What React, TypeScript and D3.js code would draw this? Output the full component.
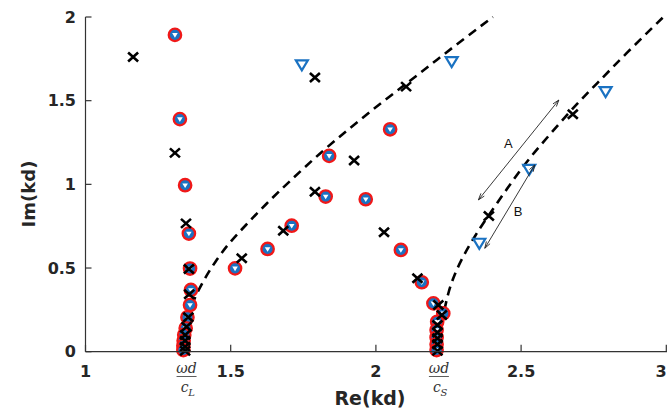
import React from "react";
import * as d3 from "d3";

// ---- Data ----
const circleRe = [1.308, 1.325, 1.343, 1.356, 1.360, 1.363, 1.360, 1.351, 1.345, 1.340, 1.338, 1.337, 1.337,
  1.515, 1.627, 1.710, 1.827, 1.839, 1.965, 2.049, 2.086, 2.158, 2.198, 2.232, 2.211, 2.209, 2.209, 2.209, 2.209];
const circleIm = [1.893, 1.390, 0.995, 0.706, 0.497, 0.369, 0.279, 0.206, 0.140, 0.100, 0.065, 0.035, 0.010,
  0.498, 0.614, 0.753, 0.927, 1.170, 0.911, 1.329, 0.608, 0.415, 0.289, 0.229, 0.179, 0.130, 0.085, 0.045, 0.010];

const crossRe = [1.164, 1.308, 1.346, 1.356, 1.357, 1.354, 1.348, 1.343, 1.343, 1.343, 1.343,
  1.538, 1.681, 1.790, 1.790, 1.925, 2.104, 2.028, 2.143, 2.215, 2.227, 2.212, 2.212, 2.212, 2.212, 2.212,
  2.389, 2.678];
const crossIm = [1.761, 1.188, 0.767, 0.494, 0.343, 0.206, 0.149, 0.100, 0.065, 0.030, 0.005,
  0.558, 0.723, 0.956, 1.638, 1.142, 1.584, 0.714, 0.439, 0.279, 0.219, 0.160, 0.115, 0.080, 0.045, 0.005,
  0.811, 1.419];

const triRe = [1.745, 2.261, 2.791, 2.528, 2.356];
const triIm = [1.714, 1.733, 1.554, 1.090, 0.648];

const curve1Re = [1.367, 1.377, 1.411, 1.446, 1.491, 1.549, 1.618, 1.704, 1.808, 1.911, 2.014, 2.117, 2.210, 2.307, 2.403];
const curve1Im = [0.279, 0.327, 0.440, 0.536, 0.644, 0.751, 0.877, 1.020, 1.188, 1.337, 1.481, 1.618, 1.744, 1.875, 2.0];

const curve2Re = [2.236, 2.25, 2.27, 2.30, 2.34, 2.39, 2.45, 2.52, 2.60, 2.68, 2.76, 2.86, 2.99];
const curve2Im = [0.25, 0.36, 0.46, 0.57, 0.69, 0.82, 0.97, 1.14, 1.30, 1.46, 1.60, 1.78, 2.0];

const xTicks = [1, 1.5, 2, 2.5, 3];
const xTickLabels = ["1", "1.5", "2", "2.5", "3"];
const yTicks = [0, 0.5, 1, 1.5, 2];
const yTickLabels = ["0", "0.5", "1", "1.5", "2"];

const specialTicks = [1.348, 2.217];
const specialSub = ["L", "S"];

const arrowLabels = ["A", "B"];
const arrowFromRe = [2.630, 2.547];
const arrowFromIm = [1.504, 1.116];
const arrowToRe = [2.353, 2.375];
const arrowToIm = [0.907, 0.618];
const labelRe = [2.456, 2.490];
const labelIm = [1.246, 0.837];

// ---- Layout ----
const W = 667;
const H = 412;
const xScale = d3.scaleLinear().domain([1, 3]).range([85.5, 666.3]);
const yScale = d3.scaleLinear().domain([0, 2]).range([351.7, 17]);

const BLUE = "#1a72c2";
const RED = "#f01818";
const AX = "#333333";
const BOLDFONT = "'DejaVu Sans', 'Liberation Sans', Arial, sans-serif";

function arrowHead(x: number, y: number, fx: number, fy: number) {
  const ang = Math.atan2(y - fy, x - fx);
  const L = 7;
  const a = (18 * Math.PI) / 180;
  const x1 = x - L * Math.cos(ang - a);
  const y1 = y - L * Math.sin(ang - a);
  const x2 = x - L * Math.cos(ang + a);
  const y2 = y - L * Math.sin(ang + a);
  return `M${x1},${y1}L${x},${y}L${x2},${y2}`;
}

export default function App() {
  const line = d3
    .line<[number, number]>()
    .x((d) => xScale(d[0]))
    .y((d) => yScale(d[1]))
    .curve(d3.curveBasis);

  const c1 = line(curve1Re.map((r, i) => [r, curve1Im[i]] as [number, number])) || "";
  const c2 = line(curve2Re.map((r, i) => [r, curve2Im[i]] as [number, number])) || "";

  const x0 = xScale(1);
  const y0 = yScale(0);

  return (
    <svg
      width={W}
      height={H}
      style={{ position: "absolute", left: 0, top: 0, background: "#fff" }}
      fontFamily="'Liberation Sans', Arial, sans-serif"
    >
      <rect width={W} height={H} fill="#fff" />
      <path d={c1} fill="none" stroke="#000" strokeWidth={2.6} strokeDasharray="9,6" />
      <path d={c2} fill="none" stroke="#000" strokeWidth={2.6} strokeDasharray="9,6" />

      {circleRe.map((r, i) => (
        <g key={"c" + i} transform={`translate(${xScale(r)},${yScale(circleIm[i])})`}>
          <circle r={6.2} fill={BLUE} stroke={RED} strokeWidth={2.3} />
          <path d="M-2.8,-1.8L2.8,-1.8L0,2.8Z" fill="#fff" />
        </g>
      ))}

      {triRe.map((r, i) => (
        <path
          key={"t" + i}
          transform={`translate(${xScale(r)},${yScale(triIm[i])})`}
          d="M-6,-4.5L6,-4.5L0,5.5Z"
          fill="#fff"
          stroke={BLUE}
          strokeWidth={2.2}
          strokeLinejoin="miter"
        />
      ))}

      {crossRe.map((r, i) => (
        <path
          key={"x" + i}
          transform={`translate(${xScale(r)},${yScale(crossIm[i])})`}
          d="M-5,-4.5L5,4.5M-5,4.5L5,-4.5"
          stroke="#000"
          strokeWidth={2.6}
        />
      ))}

      {arrowLabels.map((lab, i) => {
        const fx = xScale(arrowFromRe[i]);
        const fy = yScale(arrowFromIm[i]);
        const tx = xScale(arrowToRe[i]);
        const ty = yScale(arrowToIm[i]);
        return (
          <g key={"a" + i}>
            <line x1={fx} y1={fy} x2={tx} y2={ty} stroke="#222" strokeWidth={0.9} />
            <path d={arrowHead(fx, fy, tx, ty)} fill="none" stroke="#222" strokeWidth={0.9} />
            <path d={arrowHead(tx, ty, fx, fy)} fill="none" stroke="#222" strokeWidth={0.9} />
            <text
              x={xScale(labelRe[i])}
              y={yScale(labelIm[i])}
              fontSize={13}
              textAnchor="middle"
              dominantBaseline="central"
              fill="#111"
            >
              {lab}
            </text>
          </g>
        );
      })}

      <line x1={x0} y1={y0} x2={W} y2={y0} stroke={AX} strokeWidth={1.2} />
      <line x1={x0} y1={y0} x2={x0} y2={yScale(2)} stroke={AX} strokeWidth={1.2} />
      {yTicks.map((t, i) => (
        <g key={"yt" + i}>
          <line x1={x0} x2={x0 + 6} y1={yScale(t)} y2={yScale(t)} stroke={AX} strokeWidth={1.2} />
          <text
            x={76}
            y={yScale(t)}
            textAnchor="end"
            dominantBaseline="central"
            fontSize={16}
            fontWeight="bold"
            fontFamily={BOLDFONT}
            fill="#262626"
          >
            {yTickLabels[i]}
          </text>
        </g>
      ))}
      {xTicks.map((t, i) => (
        <g key={"xt" + i}>
          <line x1={xScale(t)} x2={xScale(t)} y1={y0} y2={y0 - 7} stroke={AX} strokeWidth={1.2} />
          <text
            x={Math.min(xScale(t), W - 6)}
            y={377}
            textAnchor="middle"
            fontSize={16}
            fontWeight="bold"
            fontFamily={BOLDFONT}
            fill="#262626"
          >
            {xTickLabels[i]}
          </text>
        </g>
      ))}
      {specialTicks.map((t, i) => {
        const cx = xScale(t);
        return (
          <g key={"st" + i} fontFamily="'DejaVu Serif', 'Liberation Serif', serif" fontStyle="italic" fill="#333">
            <text x={cx} y={373} textAnchor="middle" fontSize={14}>
              ωd
            </text>
            <line x1={cx - 10} x2={cx + 10} y1={376.5} y2={376.5} stroke="#333" strokeWidth={0.8} />
            <text x={cx - 2} y={392} textAnchor="middle" fontSize={14}>
              c
            </text>
            <text x={cx + 5} y={396} textAnchor="middle" fontSize={10}>
              {specialSub[i]}
            </text>
          </g>
        );
      })}

      <text x={370} y={405} textAnchor="middle" fontSize={19} fontWeight="bold" fontFamily={BOLDFONT} fill="#262626">
        Re(kd)
      </text>
      <text
        transform={`translate(35,194) rotate(-90)`}
        textAnchor="middle"
        fontSize={18}
        fontWeight="bold"
        fontFamily={BOLDFONT}
        fill="#262626"
      >
        Im(kd)
      </text>
    </svg>
  );
}
